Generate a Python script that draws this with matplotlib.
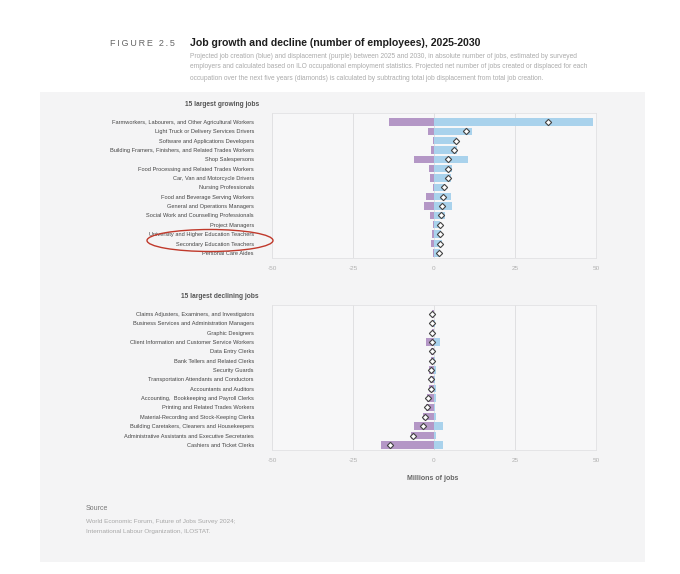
import numpy as np
import matplotlib.pyplot as plt
from matplotlib.patches import Rectangle, Ellipse

plt.rcParams['font.family'] = ['Liberation Sans', 'DejaVu Sans']

# Datos (millones de empleos)
grow_jobs = [
    "Farmworkers, Labourers, and Other Agricultural Workers",
    "Light Truck or Delivery Services Drivers",
    "Software and Applications Developers",
    "Building Framers, Finishers, and Related Trades Workers",
    "Shop Salespersons",
    "Food Processing and Related Trades Workers",
    "Car, Van and Motorcycle Drivers",
    "Nursing Professionals",
    "Food and Beverage Serving Workers",
    "General and Operations Managers",
    "Social Work and Counselling Professionals",
    "Project Managers",
    "University and Higher Education Teachers",
    "Secondary Education Teachers",
    "Personal Care Aides",
]
grow_created = [49.0, 11.8, 7.2, 7.0, 10.5, 5.6, 5.4, 3.4, 5.3, 5.7, 3.4, 2.0, 2.3, 2.5, 2.0]
grow_displaced = [-13.9, -1.8, -0.4, -0.8, -6.2, -1.4, -1.1, -0.2, -2.5, -3.2, -1.3, -0.3, -0.5, -0.8, -0.4]
grow_net = [35.1, 10.0, 6.8, 6.2, 4.3, 4.2, 4.3, 3.2, 2.8, 2.5, 2.1, 1.7, 1.8, 1.7, 1.6]

decl_jobs = [
    "Claims Adjusters, Examiners, and Investigators",
    "Business Services and Administration Managers",
    "Graphic Designers",
    "Client Information and Customer Service Workers",
    "Data Entry Clerks",
    "Bank Tellers and Related Clerks",
    "Security Guards",
    "Transportation Attendants and Conductors",
    "Accountants and Auditors",
    "Accounting,  Bookkeeping and Payroll Clerks",
    "Printing and Related Trades Workers",
    "Material-Recording and Stock-Keeping Clerks",
    "Building Caretakers, Cleaners and Housekeepers",
    "Administrative Assistants and Executive Secretaries",
    "Cashiers and Ticket Clerks",
]
decl_created = [0.1, 0.2, 0.1, 2.0, 0.1, 0.2, 0.6, 0.3, 0.6, 0.6, 0.3, 0.5, 2.9, 0.6, 2.8]
decl_displaced = [-0.6, -0.7, -0.7, -2.5, -0.8, -0.9, -1.4, -1.1, -1.5, -2.3, -2.4, -3.3, -6.3, -7.0, -16.5]
decl_net = [-0.5, -0.5, -0.6, -0.5, -0.7, -0.7, -0.8, -0.8, -0.9, -1.7, -2.1, -2.8, -3.4, -6.4, -13.7]

ticks = [-50, -25, 0, 25, 50]

BLUE = "#a9d2ec"
PURPLE = "#b497c6"
PANEL = "#f4f4f5"
GRID = "#dcdcde"

fig = plt.figure(figsize=(6.8, 5.74), dpi=100)
fig.patch.set_facecolor("white")

# Panel gris de fondo (detras de los ejes)
fig.patches.append(Rectangle((40 / 680, 1 - 562 / 574), 605 / 680, 470 / 574,
                             transform=fig.transFigure, facecolor=PANEL,
                             edgecolor="none", zorder=-10))

# Titulos
fig.text(110 / 680, 1 - 43 / 574, "\u2009".join("FIGURE 2.5"), fontsize=6.5,
         color="#666666", va="center", ha="left")
fig.text(190 / 680, 1 - 43 / 574, "Job growth and decline (number of employees), 2025-2030",
         fontsize=7.6, fontweight="bold", color="#1e1e1e", va="center", ha="left")
subtitle = [
    "Projected job creation (blue) and displacement (purple) between 2025 and 2030, in absolute number of jobs, estimated by surveyed",
    "employers and calculated based on ILO occupational employment statistics. Projected net number of jobs created or displaced for each",
    "occupation over the next five years (diamonds) is calculated by subtracting total job displacement from total job creation.",
]
for i, line in enumerate(subtitle):
    fig.text(190 / 680, 1 - (56 + 11 * i) / 574, line, fontsize=4.75,
             color="#ababab", va="center", ha="left")


def draw_panel(ax, jobs, created, displaced, net, title):
    y = np.arange(len(jobs))
    ax.set_facecolor("#f7f7f8")
    ax.barh(y, created, height=0.78, color=BLUE, zorder=2)
    ax.barh(y, displaced, height=0.78, color=PURPLE, zorder=2)
    ax.plot(net, y, linestyle="none", marker="D", markersize=3.2,
            markerfacecolor="white", markeredgecolor="#444444",
            markeredgewidth=0.8, zorder=3)
    ax.set_xlim(-50, 50)
    ax.set_ylim(14.55, -0.95)
    ax.set_xticks(ticks)
    ax.set_xticklabels([str(t) for t in ticks], fontsize=4.6, color="#b0b0b0")
    ax.set_yticks(y)
    ax.set_yticklabels(jobs, fontsize=4.1, color="#444444")
    ax.tick_params(axis="both", length=0)
    ax.tick_params(axis="y", pad=13)
    ax.tick_params(axis="x", pad=6)
    ax.grid(axis="x", color=GRID, linewidth=0.6, zorder=1)
    for s in ax.spines.values():
        s.set_color("#e2e2e4")
        s.set_linewidth(0.6)
    ax.text(-0.04, 1.06, title, transform=ax.transAxes, ha="right",
            va="center", fontsize=4.8, color="#555555", fontweight="bold")


ax1 = fig.add_axes([272 / 680, 1 - 258 / 574, 324 / 680, 145 / 574])
draw_panel(ax1, grow_jobs, grow_created, grow_displaced, grow_net,
           "15 largest growing jobs")

ax2 = fig.add_axes([272 / 680, 1 - 450 / 574, 324 / 680, 145 / 574])
draw_panel(ax2, decl_jobs, decl_created, decl_displaced, decl_net,
           "15 largest declining jobs")

fig.text(433 / 680, 1 - 478 / 574, "Millions of jobs", fontsize=5,
         fontweight="bold", color="#666666", ha="center", va="center")

# Marca a mano alrededor de los docentes
fig.patches.append(Ellipse((210 / 680, 1 - 240.5 / 574), 126 / 680, 22 / 574,
                           transform=fig.transFigure, facecolor="none",
                           edgecolor="#c0392b", linewidth=1.0, zorder=5))

# Fuente
fig.text(86 / 680, 1 - 508 / 574, "Source", fontsize=5, color="#777777",
         ha="left", va="center")
fig.text(86 / 680, 1 - 521 / 574, "World Economic Forum, Future of Jobs Survey 2024;",
         fontsize=4.6, color="#a8a8a8", ha="left", va="center")
fig.text(86 / 680, 1 - 531 / 574, "International Labour Organization, ILOSTAT.",
         fontsize=4.6, color="#a8a8a8", ha="left", va="center")

plt.savefig("out.png", dpi=100)
plt.close()
